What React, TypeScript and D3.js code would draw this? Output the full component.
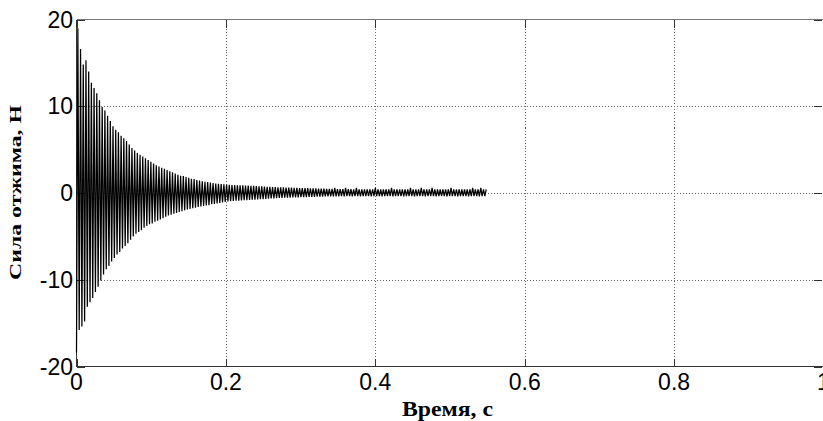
import React from 'react';
import * as d3 from 'd3';

// peak values per oscillation cycle
const upperPeaks = [
  19.0, 16.6, 14.8, 15.3, 14.0, 12.7, 12.1, 11.5, 10.7, 9.9, 9.5, 8.9, 8.3, 7.7, 7.3, 7.0, 6.6,
  6.3, 6.0, 5.6, 5.2, 4.9, 4.6, 4.4, 4.2, 4.0, 3.8, 3.6, 3.4, 3.2, 3.05, 2.9, 2.8, 2.65, 2.5, 2.4, 2.25,
  2.1, 2.0, 1.95, 1.85, 1.75, 1.65, 1.6, 1.5, 1.45, 1.35, 1.3, 1.25, 1.2, 1.15, 1.1, 1.05, 1.02, 1.0, 0.98, 0.95,
  0.93, 0.92, 0.9, 0.9, 0.88, 0.86, 0.85, 0.83, 0.82, 0.8, 0.78, 0.76, 0.74, 0.72, 0.7, 0.69, 0.67, 0.66, 0.65, 0.64,
  0.63, 0.62, 0.61, 0.6, 0.59, 0.58, 0.58, 0.57, 0.56, 0.55, 0.54, 0.53, 0.52, 0.5, 0.5, 0.49, 0.48, 0.47, 0.6, 0.46,
  0.45, 0.45, 0.58, 0.44, 0.44, 0.43, 0.58, 0.43, 0.42, 0.41, 0.43, 0.42, 0.41, 0.58, 0.42, 0.43, 0.41, 0.42, 0.42, 0.58,
  0.41, 0.43, 0.42, 0.42, 0.41, 0.43, 0.58, 0.42, 0.41, 0.42, 0.58, 0.43, 0.42, 0.41, 0.58, 0.42, 0.43, 0.41, 0.42, 0.42,
  0.41, 0.58, 0.43, 0.42, 0.41, 0.42, 0.43, 0.42, 0.41, 0.58, 0.42, 0.42, 0.58, 0.41, 0.43,
];

const lowerPeaks = [
  -18.4, -15.8, -15.4, -14.8, -13.1, -12.6, -12.1, -11.4, -10.8, -10.1, -9.4, -8.8, -8.4, -7.9, -7.5, -7.1, -6.8,
  -6.4, -6.1, -5.8, -5.4, -5.0, -4.7, -4.5, -4.3, -4.0, -3.8, -3.6, -3.5, -3.3, -3.2, -3.05, -2.9, -2.75, -2.6, -2.5, -2.4,
  -2.3, -2.2, -2.1, -2.0, -1.9, -1.85, -1.75, -1.7, -1.6, -1.55, -1.5, -1.45, -1.4, -1.3, -1.25, -1.2, -1.15, -1.1, -1.02, -0.97,
  -0.94, -0.92, -0.9, -0.88, -0.86, -0.84, -0.82, -0.8, -0.78, -0.76, -0.74, -0.72, -0.7, -0.68, -0.66, -0.64, -0.62, -0.6, -0.58, -0.56,
  -0.55, -0.54, -0.53, -0.52, -0.51, -0.5, -0.49, -0.48, -0.47, -0.46, -0.45, -0.44, -0.43, -0.42, -0.41, -0.4, -0.4, -0.39, -0.39, -0.38,
  -0.38, -0.37, -0.38, -0.36, -0.37, -0.38, -0.37, -0.36, -0.38, -0.37, -0.37, -0.36, -0.38, -0.37, -0.36, -0.37, -0.38, -0.37, -0.36, -0.37,
  -0.38, -0.37, -0.36, -0.37, -0.38, -0.37, -0.37, -0.36, -0.38, -0.37, -0.36, -0.37, -0.38, -0.36, -0.37, -0.37, -0.38, -0.37, -0.36, -0.37,
  -0.38, -0.37, -0.36, -0.37, -0.38, -0.37, -0.36, -0.37, -0.38, -0.37, -0.36, -0.37, -0.38, -0.37, -0.36,
];

const period = 0.00362; // s, one oscillation
const xTicks = [0, 0.2, 0.4, 0.6, 0.8, 1];
const yTicks = [-20, -10, 0, 10, 20];
const xGrid = [0.2, 0.4, 0.6, 0.8];
const yGrid = [-10, 0, 10];
const xTitle = 'Время, с';
const yTitle = 'Сила отжима, Н';

export default function App() {
  const width = 823;
  const height = 421;
  const x = d3.scaleLinear().domain([0, 1]).range([76.5, 823.5]);
  const y = d3.scaleLinear().domain([-20, 20]).range([366.5, 19.5]);

  const pts: [number, number][] = [];
  lowerPeaks.forEach((lo, i) => {
    pts.push([i * period, lo]);
    pts.push([(i + 0.5) * period, upperPeaks[i]]);
  });
  const line = d3.line<[number, number]>()
    .x(d => x(d[0]))
    .y(d => y(d[1]));

  const tickLen = 8;
  const axisColor = '#333';
  const tickFont = { fontFamily: '"Liberation Sans", Arial, sans-serif', fontSize: 23 };
  const titleFont = { fontFamily: '"Liberation Serif", "Times New Roman", serif', fontWeight: 'bold' as const };

  const [x0, x1] = x.range();
  const [y0, y1] = y.range();
  const px = (v: number) => Math.round(v) + 0.5;

  return (
    <svg width={width} height={height} style={{ position: 'absolute', left: 0, top: 0, background: '#fff' }}>
      <rect x={0} y={0} width={width} height={height} fill="#fff" />
      {/* grid */}
      <g stroke="#666" strokeWidth={1} strokeDasharray="1,2" shapeRendering="crispEdges">
        {xGrid.map(t => (
          <line key={'gx' + t} x1={px(x(t))} x2={px(x(t))} y1={y1} y2={y0} />
        ))}
        {yGrid.map(t => (
          <line key={'gy' + t} x1={x0} x2={x1} y1={px(y(t))} y2={px(y(t))} />
        ))}
      </g>
      {/* box */}
      <g stroke={axisColor} strokeWidth={1} shapeRendering="crispEdges" fill="none">
        <line x1={x0} x2={x1} y1={y0} y2={y0} />
        <line x1={x0} x2={x0} y1={y0} y2={y1} />
        <line x1={x1} x2={x1} y1={y0} y2={y1} />
        <line x1={x0} x2={x1} y1={y1} y2={y1} stroke="#777" />
        {xTicks.map(t => (
          <g key={'tx' + t}>
            <line x1={px(x(t))} x2={px(x(t))} y1={y0} y2={y0 - tickLen} />
            <line x1={px(x(t))} x2={px(x(t))} y1={y1} y2={y1 + tickLen} />
          </g>
        ))}
        {yTicks.map(t => (
          <g key={'ty' + t}>
            <line x1={x0} x2={x0 + tickLen} y1={px(y(t))} y2={px(y(t))} />
            <line x1={822} x2={822 - tickLen} y1={px(y(t))} y2={px(y(t))} />
          </g>
        ))}
      </g>
      {/* signal */}
      <path d={line(pts) || ''} fill="none" stroke="#000" strokeWidth={1.25} />
      {/* tick labels */}
      <g {...tickFont} fill="#000">
        {xTicks.map(t => (
          <text key={'lx' + t} x={x(t)} y={390} textAnchor="middle">{t}</text>
        ))}
        {yTicks.map(t => (
          <text key={'ly' + t} x={73} y={y(t) + 8.2} textAnchor="end">{t}</text>
        ))}
      </g>
      {/* titles */}
      <text x={402} y={416} fontSize={21} textLength={91} lengthAdjust="spacingAndGlyphs" {...titleFont}>{xTitle}</text>
      <text transform="translate(21,280) rotate(-90)" fontSize={17} textLength={175} lengthAdjust="spacingAndGlyphs" {...titleFont}>{yTitle}</text>
    </svg>
  );
}
